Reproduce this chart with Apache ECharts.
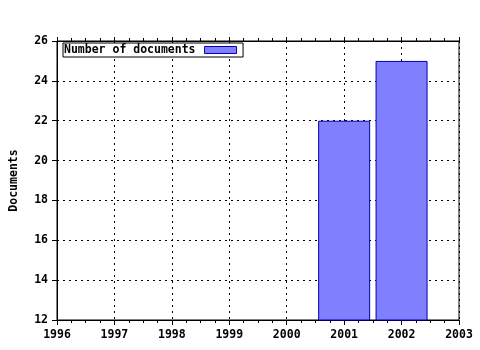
<!DOCTYPE html>
<html><head><meta charset="utf-8">
<script src="https://cdn.jsdelivr.net/npm/echarts@6/dist/echarts.min.js"></script>
<style>html,body{margin:0;padding:0;background:#fff}#c{width:480px;height:350px}</style>
</head><body><div id="c"></div>
<script>
var years = [2001, 2002];
var docs = [22, 25];
var seriesName = 'Number of documents';
var yName = 'Documents';
var xMin = 1996, xMax = 2003;
var yMin = 12, yMax = 26, yStep = 2;

var font = 'DejaVu Sans Mono';
var chart = echarts.init(document.getElementById('c'), null, {renderer: 'canvas'});
var dotted = {color: '#000', width: 1, type: [2, 4]};
chart.setOption({
  animation: false,
  backgroundColor: '#fff',
  grid: {left: 57, top: 41, width: 402, height: 279, containLabel: false, outerBoundsMode: 'none',
         show: true, borderColor: '#000', borderWidth: 1, backgroundColor: 'transparent'},
  legend: {
    left: 63, top: 43, align: 'right', orient: 'horizontal',
    backgroundColor: '#fff', borderColor: '#000', borderWidth: 1, borderRadius: 0,
    padding: [1, 6, 1, 1], itemWidth: 32, itemHeight: 7, icon: 'rect',
    itemStyle: {color: '#8080ff', borderColor: '#0000b0', borderWidth: 1},
    textStyle: {fontFamily: font, fontWeight: 'bold', fontSize: 11.5, color: '#000', lineHeight: 12, padding: [0, 4, 0, 0]},
    data: [seriesName]
  },
  xAxis: [{
    type: 'value', position: 'bottom', min: xMin, max: xMax, interval: 1,
    axisLine: {show: true, lineStyle: {color: '#000', width: 1}},
    axisTick: {show: true, length: 5, lineStyle: {color: '#000'}},
    minorTick: {show: true, splitNumber: 4, length: 3, lineStyle: {color: '#000'}},
    splitLine: {show: true, lineStyle: dotted},
    axisLabel: {margin: 9, fontFamily: font, fontWeight: 'bold', fontSize: 11.5, color: '#000', formatter: function (v) { return String(v); }}
  }, {
    type: 'value', position: 'top', min: xMin, max: xMax, interval: 1,
    axisLine: {show: true, lineStyle: {color: '#000', width: 1}},
    axisTick: {show: true, length: 4, lineStyle: {color: '#000'}},
    minorTick: {show: true, splitNumber: 4, length: 3, lineStyle: {color: '#000'}},
    splitLine: {show: false},
    axisLabel: {show: false}
  }],
  yAxis: [{
    type: 'value', min: yMin, max: yMax, interval: yStep,
    name: yName, nameLocation: 'middle', nameRotate: 90, nameGap: 37,
    nameTextStyle: {fontFamily: font, fontWeight: 'bold', fontSize: 11.5, color: '#000'},
    axisLine: {show: true, lineStyle: {color: '#000', width: 1}},
    axisTick: {show: true, length: 5, lineStyle: {color: '#000'}},
    splitLine: {show: true, lineStyle: dotted},
    axisLabel: {margin: 9, fontFamily: font, fontWeight: 'bold', fontSize: 11.5, color: '#000'}
  }],
  series: [{
    name: seriesName, type: 'bar', xAxisIndex: 0, yAxisIndex: 0,
    barWidth: 52,
    itemStyle: {color: '#8080ff', borderColor: '#0000b0', borderWidth: 1},
    data: years.map(function (y, i) { return [y, docs[i]]; })
  }]
});
</script></body></html>
